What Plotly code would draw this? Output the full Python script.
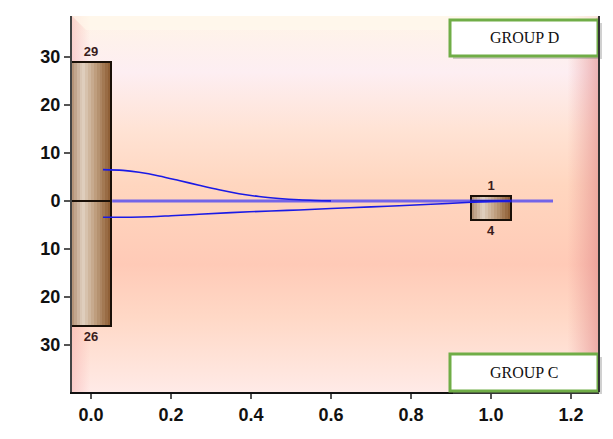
import base64
import numpy as np
import plotly.graph_objects as go

# ---- data ----
bar_x = [0.0, 1.0]
group_d = [29, 1]          # upward bars
group_c = [26, 4]          # downward bars (shown as negative)
curve_d_x = [0.03, 0.08, 0.12, 0.17, 0.22, 0.27, 0.32, 0.37, 0.42, 0.47, 0.52, 0.56, 0.60]
curve_d_y = [6.5, 6.35, 5.95, 5.2, 4.25, 3.25, 2.3, 1.5, 0.9, 0.5, 0.22, 0.08, 0.0]
curve_c_x = [0.03, 0.10, 0.15, 0.20, 0.27, 0.35, 0.45, 0.52, 0.60, 0.70, 0.77, 0.85, 0.95, 1.00, 1.05]
curve_c_y = [-3.4, -3.4, -3.3, -3.1, -2.8, -2.45, -2.1, -1.9, -1.6, -1.25, -1.0, -0.7, -0.3, -0.1, 0.0]
zero_line_x = [0.053, 1.155]
zero_line_y = [0, 0]
y_tickvals = [-30, -20, -10, 0, 10, 20, 30]
y_ticktext = ["30", "20", "10", "0", "10", "20", "30"]
x_tickvals = [0.0, 0.2, 0.4, 0.6, 0.8, 1.0, 1.2]
x_ticktext = ["0.0", "0.2", "0.4", "0.6", "0.8", "1.0", "1.2"]
legend_labels = ["GROUP D", "GROUP C"]

BAR_W = 0.1

fig = go.Figure()

# bar gradient by strips
stops_pos = [0.0, 0.3, 0.6, 1.0]
stops_rgb = np.array([[176, 140, 112], [226, 210, 194], [192, 160, 128], [140, 90, 48]])
N = 14
for i in range(N):
    t = (i + 0.5) / N
    rgb = [int(np.interp(t, stops_pos, stops_rgb[:, k])) for k in range(3)]
    col = "rgb(%d,%d,%d)" % tuple(rgb)
    for vals, sign in ((group_d, 1), (group_c, -1)):
        fig.add_trace(go.Bar(
            x=bar_x, y=[sign * v for v in vals], width=BAR_W / N * 1.02,
            offset=-BAR_W / 2 + i * BAR_W / N, marker_color=col,
            marker_line_width=0, showlegend=False, hoverinfo="skip"))

# outlines + labels
for vals, sign in ((group_d, 1), (group_c, -1)):
    fig.add_trace(go.Bar(
        x=bar_x, y=[sign * v for v in vals], width=BAR_W, offset=-BAR_W / 2,
        marker=dict(color="rgba(0,0,0,0)", line=dict(color="#1a1008", width=2)),
        text=[str(v) for v in vals], textposition="outside",
        textfont=dict(family="Liberation Sans, Arial", size=13, color="#3a1c1c", weight="bold"),
        cliponaxis=False, showlegend=False))

# curves
fig.add_trace(go.Scatter(x=zero_line_x, y=zero_line_y, mode="lines",
                         line=dict(color="rgba(40,40,255,0.65)", width=3), showlegend=False))
fig.add_trace(go.Scatter(x=curve_d_x, y=curve_d_y, mode="lines", line_shape="spline",
                         line=dict(color="#1a1ae6", width=1.6), showlegend=False))
fig.add_trace(go.Scatter(x=curve_c_x, y=curve_c_y, mode="lines", line_shape="spline",
                         line=dict(color="#1a1ae6", width=1.6), showlegend=False))

# background gradient as svg
svg = """<svg xmlns='http://www.w3.org/2000/svg' width='527' height='376' preserveAspectRatio='none' viewBox='0 0 527 376'>
<defs>
<linearGradient id='v' x1='0' y1='0' x2='0' y2='1'>
<stop offset='0' stop-color='#FFF5E6'/>
<stop offset='0.07' stop-color='#FEF1EC'/>
<stop offset='0.15' stop-color='#FDEEF2'/>
<stop offset='0.3' stop-color='#FFE3D5'/>
<stop offset='0.45' stop-color='#FFD6BF'/>
<stop offset='0.55' stop-color='#FFD1BB'/>
<stop offset='0.66' stop-color='#FFCAB7'/>
<stop offset='0.8' stop-color='#FFD8C6'/>
<stop offset='0.92' stop-color='#FFE3D9'/>
<stop offset='1' stop-color='#FFEAE7'/>
</linearGradient>
<linearGradient id='h' x1='0' y1='0' x2='1' y2='0'>
<stop offset='0' stop-color='#F5A8A8' stop-opacity='0.45'/>
<stop offset='0.035' stop-color='#F5A8A8' stop-opacity='0'/>
<stop offset='0.94' stop-color='#E89090' stop-opacity='0'/>
<stop offset='1' stop-color='#E08888' stop-opacity='0.6'/>
</linearGradient>
</defs>
<rect width='527' height='376' fill='url(#v)'/>
<rect width='527' height='376' fill='url(#h)'/>
<polygon points='0,0 527,0 512,14 14,14' fill='#FFF8EC' opacity='0.7'/>
</svg>"""
src = "data:image/svg+xml;base64," + base64.b64encode(svg.encode()).decode()

L, R, T, B = 72, 14, 16, 47
W, H = 613, 439
pw, ph = W - L - R, H - T - B

def px(x):
    return (x - L) / pw

def py(y):
    return (H - B - y) / ph

shapes = []
annotations = []
boxes = [(legend_labels[0], 20, 56), (legend_labels[1], 354, 391)]
for lab, y0, y1 in boxes:
    shapes.append(dict(type="rect", xref="paper", yref="paper", x0=px(453), x1=px(602),
                       y0=py(y1 + 3), y1=py(y0 + 3), fillcolor="rgba(120,120,120,0.35)",
                       line_width=0, layer="above"))
    shapes.append(dict(type="rect", xref="paper", yref="paper", x0=px(450), x1=px(598),
                       y0=py(y1), y1=py(y0), fillcolor="white",
                       line=dict(color="#70AD47", width=3), layer="above"))
    annotations.append(dict(text=lab, xref="paper", yref="paper", x=px(524), y=py((y0 + y1) / 2),
                            showarrow=False, xanchor="center", yanchor="middle",
                            font=dict(family="Liberation Serif, DejaVu Serif", size=16, color="#111")))
# right edge line
shapes.append(dict(type="line", xref="paper", yref="paper", x0=1, x1=1, y0=0, y1=1,
                   line=dict(color="#333", width=2), layer="above"))

tickfont = dict(family="Liberation Sans, Arial", size=18, color="#111", weight="bold")
fig.update_layout(
    width=W, height=H, margin=dict(l=L, r=R, t=T, b=B),
    paper_bgcolor="white", plot_bgcolor="#FFDCC8",
    barmode="overlay", bargap=0,
    images=[dict(source=src, xref="paper", yref="paper", x=0, y=1, sizex=1, sizey=1,
                 xanchor="left", yanchor="top", sizing="stretch", layer="below")],
    shapes=shapes, annotations=annotations,
    xaxis=dict(range=[-0.0475, 1.27], tickvals=x_tickvals, ticktext=x_ticktext,
               showgrid=False, zeroline=False, showline=True, linecolor="#111", linewidth=2,
               ticks="outside", ticklen=5, tickwidth=2, tickcolor="#555",
               tickfont=tickfont, fixedrange=True),
    yaxis=dict(range=[-39.8, 38.5], tickvals=y_tickvals, ticktext=y_ticktext,
               showgrid=False, zeroline=False, showline=True, linecolor="#444", linewidth=2,
               ticks="outside", ticklen=6, tickwidth=2, tickcolor="#555",
               tickfont=tickfont, fixedrange=True),
    font=dict(family="Liberation Sans, Arial"),
)

fig.write_html("out.html", config={"displayModeBar": False},
               post_script="document.body.style.margin='0';document.body.style.padding='0';")
